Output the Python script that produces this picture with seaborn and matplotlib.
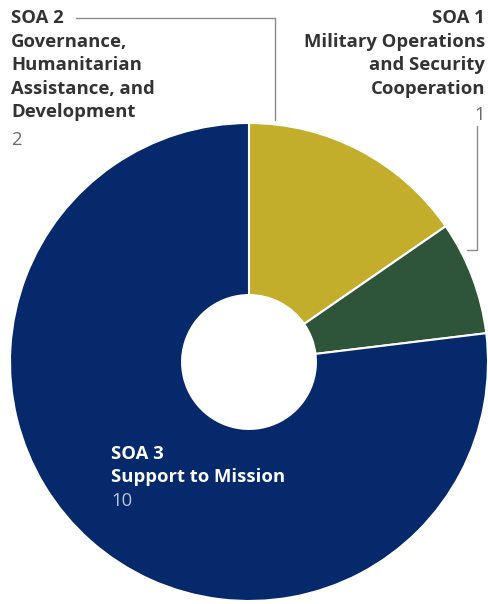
import matplotlib
matplotlib.use("Agg")
import matplotlib.pyplot as plt
import seaborn as sns

# data
labels = ["SOA 2", "SOA 1", "SOA 3"]
titles = ["Governance,\nHumanitarian\nAssistance, and\nDevelopment",
          "Military Operations\nand Security\nCooperation",
          "Support to Mission"]
counts = [2, 1, 10]
colors = ["#C3AE2B", "#2E5539", "#05296A"]

sns.set_style("white")
plt.rcParams["font.family"] = ["Open Sans", "DejaVu Sans"]

W, H = 488, 604
fig = plt.figure(figsize=(W / 100, H / 100), dpi=100)
ax = fig.add_axes([0, 0, 1, 1])

cx, cy, r = 249, 362, 239
ax.pie(counts, colors=colors, startangle=90, counterclock=False,
       radius=1, wedgeprops=dict(width=0.72, edgecolor="white", linewidth=1.5))
ax.set_xlim(-cx / r, (W - cx) / r)
ax.set_ylim(-(H - cy) / r, cy / r)
ax.set_aspect("equal")
ax.axis("off")

def fx(px):
    return px / W

def fy(py):
    return 1 - py / H

txt = "#333333"
num = "#6b6b6b"
fs = 13.3
ls = 1.4

# SOA 2 label (top-left)
fig.text(fx(11), fy(9), labels[0] + "\n" + titles[0], ha="left", va="top",
         fontsize=fs, fontweight="bold", color=txt, linespacing=ls)
fig.text(fx(11), fy(131), str(counts[0]), ha="left", va="top",
         fontsize=fs, color=num)

# SOA 1 label (top-right)
fig.text(fx(485), fy(9), labels[1] + "\n" + titles[1], ha="right", va="top",
         fontsize=fs, fontweight="bold", color=txt, linespacing=ls)
fig.text(fx(485), fy(106), str(counts[1]), ha="right", va="top",
         fontsize=fs, color=num)

# SOA 3 label (inside navy)
fig.text(fx(111), fy(445), labels[2] + "\n" + titles[2], ha="left", va="top",
         fontsize=fs, fontweight="bold", color="white", linespacing=1.33)
fig.text(fx(111), fy(492), str(counts[2]), ha="left", va="top",
         fontsize=fs, color="#b9c4dc")

# leader lines
lc = "#8a8a8a"
fig.add_artist(plt.Line2D([fx(76), fx(275), fx(275)], [fy(18), fy(18), fy(120)],
                          color=lc, lw=1))
fig.add_artist(plt.Line2D([fx(477), fx(477), fx(467)], [fy(126), fy(250), fy(250)],
                          color=lc, lw=1))

fig.savefig("out.png", dpi=100)
